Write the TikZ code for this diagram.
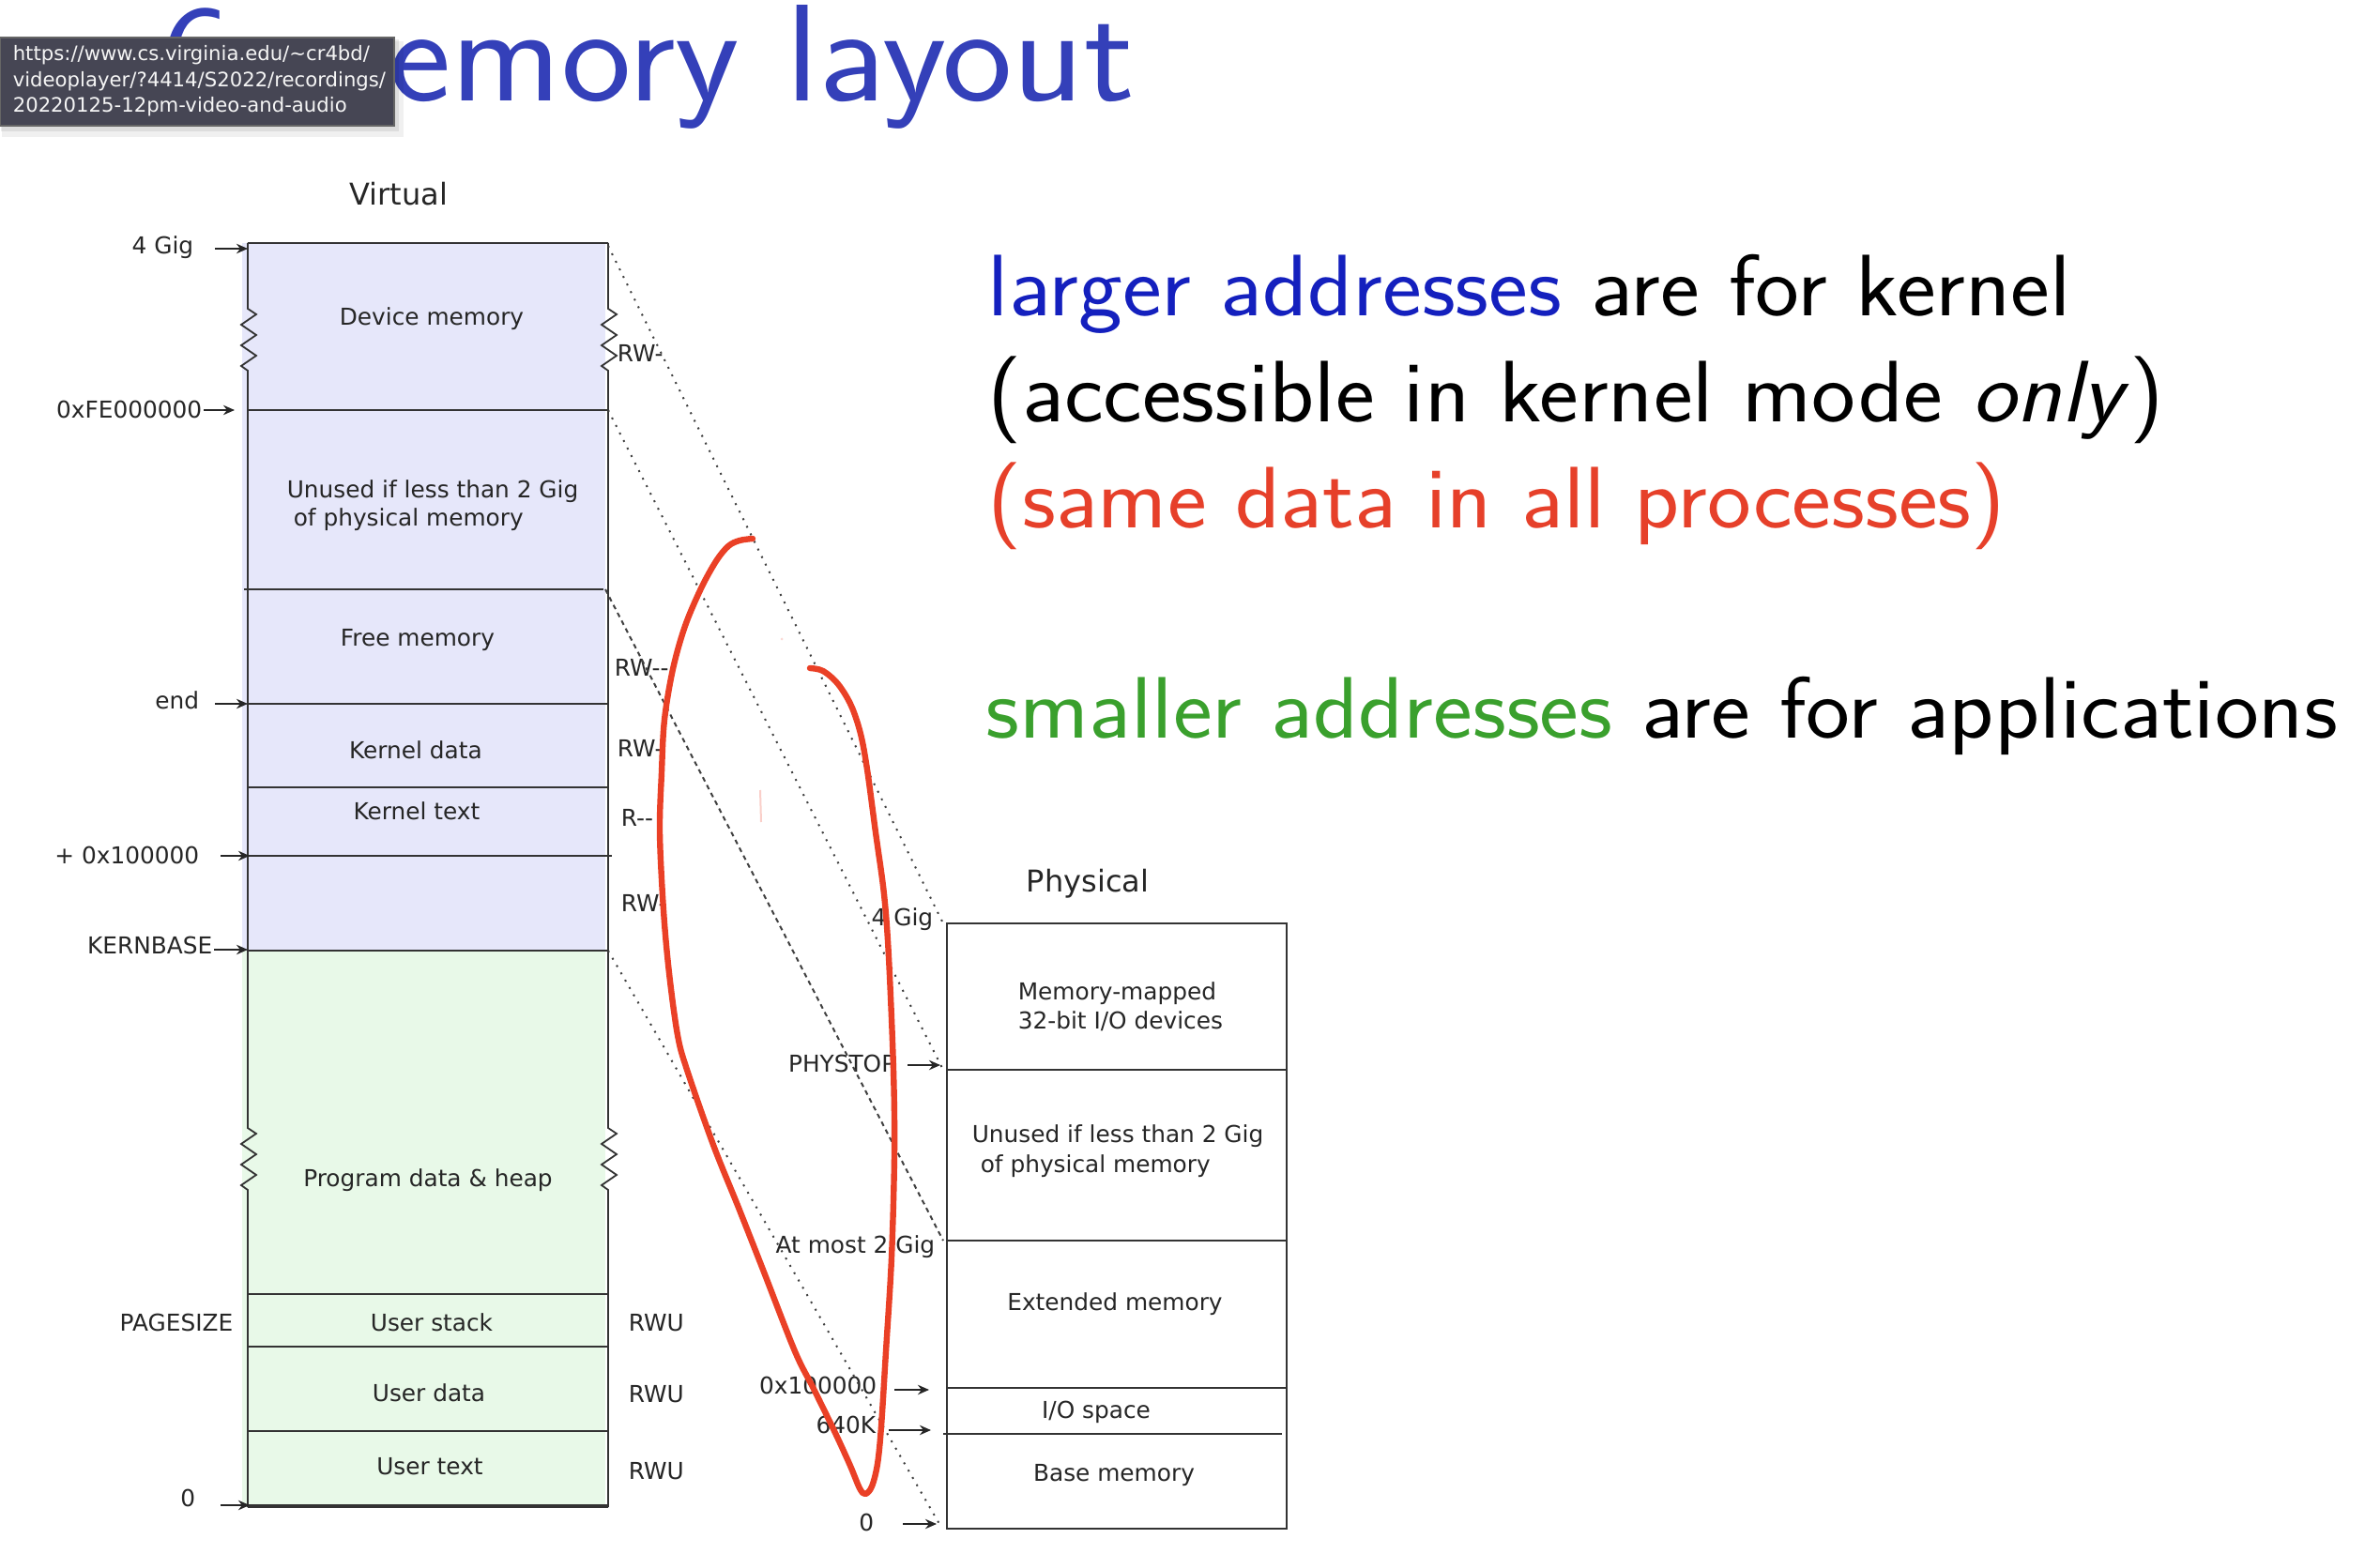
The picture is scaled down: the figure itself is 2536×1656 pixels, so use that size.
\documentclass[tikz,border=0pt]{standalone}
\usepackage{fontspec}
\newfontfamily\dejavu{DejaVu Sans}
\usetikzlibrary{arrows.meta}
\definecolor{titleblue}{RGB}{52,64,185}
\definecolor{textblue}{RGB}{20,32,190}
\definecolor{textred}{RGB}{230,64,42}
\definecolor{textgreen}{RGB}{58,160,45}
\definecolor{kernfill}{RGB}{230,231,250}
\definecolor{userfill}{RGB}{232,249,232}
\definecolor{inkred}{RGB}{234,64,38}
\definecolor{tipgrey}{RGB}{70,70,84}
\newcommand{\widen}[1]{\scalebox{1.07}[1]{#1}}

\begin{document}
\begin{tikzpicture}[x=0.25pt,y=-0.25pt,
  lbl/.style={font=\dejavu\fontsize{6.2}{7.4}\selectfont, inner sep=0pt, text=black!85},
  hdr/.style={font=\dejavu\fontsize{8}{9.6}\selectfont, inner sep=0pt, text=black!85},
  big/.style={font=\sffamily\fontsize{23.25}{28}\selectfont, inner sep=0pt, anchor=base west},
  tiptext/.style={font=\dejavu\fontsize{5.3}{6.2}\selectfont, inner sep=0pt, anchor=base west, text=white!92!gray},
  boxline/.style={line width=0.45pt, draw=black!80},
  ptr/.style={line width=0.4pt, draw=black!85, -{Stealth[length=3pt,width=2.6pt]}},
  map dots/.style={line width=0.5pt, draw=black!75, dash pattern=on 0.5pt off 1.75pt},
  map dash/.style={line width=0.5pt, draw=black!75, dash pattern=on 1.25pt off 1.1pt},
  ink/.style={draw=inkred, line width=1.6pt, line cap=round, line join=round},
  zigzagside/.style={insert path={-- ++(9,6) -- ++(-16,11) -- ++(16,11) -- ++(-16,11) -- ++(16,11) -- ++(-16,11) -- ++(7,5)}},
]
\useasboundingbox (0,0) rectangle (2536,1656);
\fill[white] (0,0) rectangle (2536,1656);

% ---------- slide title ----------
\node[font=\sffamily\fontsize{36.75}{44}\selectfont, text=titleblue, anchor=base west, inner sep=0pt] (title) at (35,108) {\scalebox{1.077}[1]{xv6 memory layout}};

% ---------- virtual address space ----------
\node[hdr, anchor=base] (virt) at (425,219) {Virtual};
\fill[kernfill] (258,259) rectangle (645,1013);
\fill[userfill] (258,1013) rectangle (645,1606);

% outer borders with break marks
\draw[boxline] (264,259) -- (648,259);
\draw[boxline] (264,259) -- (264,329) [zigzagside] -- (264,1202) [zigzagside] -- (264,1606);
\draw[boxline] (648,259) -- (648,329) [zigzagside] -- (648,1202) [zigzagside] -- (648,1606);
\draw[line width=0.8pt, black!80] (264,1605) -- (648,1605);

% region boundaries
\draw[boxline] (264,437) -- (648,437);
\draw[boxline] (260,628) -- (643,628);
\draw[boxline] (264,750) -- (648,750);
\draw[boxline] (264,839) -- (648,839);
\draw[boxline] (264,912) -- (652,912);
\draw[boxline] (264,1013) -- (648,1013);
\draw[boxline] (264,1379) -- (648,1379);
\draw[boxline] (264,1435) -- (648,1435);
\draw[boxline] (264,1525) -- (648,1525);

% region names
\node[lbl, anchor=base] (vdev) at (460,347) {Device memory};
\node[lbl, anchor=base west] (vun1) at (305,531) {Unused if less than 2 Gig};
\node[lbl, anchor=base west] (vun2) at (312,561) {of physical memory};
\node[lbl, anchor=base] (vfree) at (445,689) {Free memory};
\node[lbl, anchor=base] (vkdata) at (443,808) {Kernel data};
\node[lbl, anchor=base] (vktext) at (444,874) {Kernel text};
\node[lbl, anchor=base] (vheap) at (456,1264) {Program data \& heap};
\node[lbl, anchor=base] (vstack) at (460,1418) {User stack};
\node[lbl, anchor=base] (vudata) at (457,1493) {User data};
\node[lbl, anchor=base] (vutext) at (458,1571) {User text};

% address labels
\node[lbl, anchor=base east] (a4g) at (207,271) {4 Gig};
\node[lbl, anchor=base east] (afe) at (216,446) {0xFE000000};
\node[lbl, anchor=base east] (aend) at (213,756) {end};
\node[lbl, anchor=base east] (a1m) at (213,920) {+ 0x100000};
\node[lbl, anchor=base east] (akb) at (227,1016) {KERNBASE};
\node[lbl, anchor=base east] (apg) at (249,1418) {PAGESIZE};
\node[lbl, anchor=base east] (a0) at (209,1605) {0};

\coordinate (t4g) at (264,265);  \coordinate (s4g) at (229,265);
\coordinate (tfe) at (250,437);  \coordinate (sfe) at (217,437);
\coordinate (tend) at (264,750); \coordinate (send) at (229,750);
\coordinate (t1m) at (266,912);  \coordinate (s1m) at (235,912);
\coordinate (tkb) at (264,1012); \coordinate (skb) at (228,1012);
\coordinate (t0) at (266,1604);  \coordinate (s0) at (235,1604);
\draw[ptr] (s4g) -- (t4g);
\draw[ptr] (sfe) -- (tfe);
\draw[ptr] (send) -- (tend);
\draw[ptr] (s1m) -- (t1m);
\draw[ptr] (skb) -- (tkb);
\draw[ptr] (s0) -- (t0);

% permission labels
\node[lbl, anchor=base west] (p1) at (657,386) {RW-};
\node[lbl, anchor=base west] (p2) at (654,721) {RW--};
\node[lbl, anchor=base west] (p3) at (657,806) {RW-};
\node[lbl, anchor=base west] (p4) at (661,880) {R--};
\node[lbl, anchor=base west] (p5) at (661,971) {RW-};
\node[lbl, anchor=base west] (p6) at (669,1418) {RWU};
\node[lbl, anchor=base west] (p7) at (669,1494) {RWU};
\node[lbl, anchor=base west] (p8) at (669,1576) {RWU};

% ---------- physical address space ----------
\node[hdr, anchor=base] (phys) at (1159,950) {Physical};
\draw[boxline] (1009,984) rectangle (1371,1629);
\draw[boxline] (1009,1140) -- (1371,1140);
\draw[boxline] (1009,1322) -- (1371,1322);
\draw[boxline] (1009,1479) -- (1371,1479);
\draw[boxline] (1005,1528) -- (1366,1528);

\node[lbl, anchor=base west] (pm1) at (1084,1065) {Memory-mapped};
\node[lbl, anchor=base west] (pm2) at (1084,1096) {32-bit I/O devices};
\node[lbl, anchor=base west] (pu1) at (1035,1217) {Unused if less than 2 Gig};
\node[lbl, anchor=base west] (pu2) at (1044,1249) {of physical memory};
\node[lbl, anchor=base] (pext) at (1188,1396) {Extended memory};
\node[lbl, anchor=base] (pio) at (1168,1511) {I/O space};
\node[lbl, anchor=base] (pbase) at (1187,1578) {Base memory};

\node[lbl, anchor=base east] (b4g) at (995,986) {4 Gig};
\node[lbl, anchor=base east] (bstop) at (955,1142) {PHYSTOP};
\node[lbl, anchor=base east] (b2g) at (997,1335) {At most 2 Gig};
\node[lbl, anchor=base east] (b1m) at (935,1485) {0x100000};
\node[lbl, anchor=base east] (b640) at (934,1527) {640K};
\node[lbl, anchor=base east] (b0) at (932,1631) {0};

\coordinate (ustop) at (967,1135); \coordinate (vstop) at (1002,1135);
\coordinate (u1m) at (953,1481);   \coordinate (v1m) at (990,1481);
\coordinate (u640) at (947,1524);  \coordinate (v640) at (992,1524);
\coordinate (u0) at (962,1624);    \coordinate (v0) at (998,1624);
\draw[ptr] (ustop) -- (vstop);
\draw[ptr] (u1m) -- (v1m);
\draw[ptr] (u640) -- (v640);
\draw[ptr] (u0) -- (v0);

% ---------- virtual-to-physical correspondence ----------
\coordinate (m4g) at (648,262);   \coordinate (n4g) at (1005,984);
\coordinate (mfe) at (648,437);   \coordinate (nfe) at (1005,1140);
\coordinate (mfr) at (645,628);   \coordinate (nfr) at (1005,1322);
\coordinate (mkb) at (648,1013);  \coordinate (nkb) at (1001,1624);
\draw[map dots] (m4g) -- (n4g);
\draw[map dots] (mfe) -- (nfe);
\draw[map dash] (mfr) -- (nfr);
\draw[map dots] (mkb) -- (nkb);

% ---------- slide text ----------
\node[big] (l1) at (1052,337) {\widen{\textcolor{textblue}{larger addresses} are for kernel}};
\node[big] (l2) at (1052,450) {\widen{(accessible in kernel mode \textit{only})}};
\node[big, text=textred] (l3) at (1052,563) {\widen{(same data in all processes)}};
\node[big] (l4) at (1050,787) {\widen{\textcolor{textgreen}{smaller addresses} are for applications}};

% ---------- hand-drawn pen stroke ----------
\draw[ink] plot[smooth, tension=0.55] coordinates {
  (802,574) (788,576) (776,582) (763,598) (747,627) (730,667) (717,713)
  (708,767) (705,823) (703,887) (707,970) (713,1037) (722,1103) (732,1140)
  (760,1220) (787,1287) (813,1353) (847,1440) (867,1480) (890,1527)
  (906,1562) (916,1586) (922,1592) (929,1584) (935,1560) (939,1520)
  (944,1440) (950,1340) (953,1230) (952,1140) (947,1020) (942,953)
  (933,887) (924,820) (917,782) (907,752) (893,729) (877,715) (863,712)};
\draw[inkred!25, line width=0.5pt] (810,842) -- (811,876);
\fill[inkred!20] (833,681) circle (1.5);

% ---------- browser tooltip ----------
\fill[black, opacity=0.06] (2,44) rectangle (430,146);
\fill[black, opacity=0.08] (1,42) rectangle (425,140);
\filldraw[fill=tipgrey, draw=gray!80!black, line width=0.4pt] (0,40) rectangle (420,134);
\node[tiptext] (tip1) at (13,65) {https://www.cs.virginia.edu/\textasciitilde cr4bd/};
\node[tiptext] (tip2) at (13,93) {videoplayer/?4414/S2022/recordings/};
\node[tiptext] (tip3) at (13,120) {20220125-12pm-video-and-audio};
\end{tikzpicture}
\end{document}
